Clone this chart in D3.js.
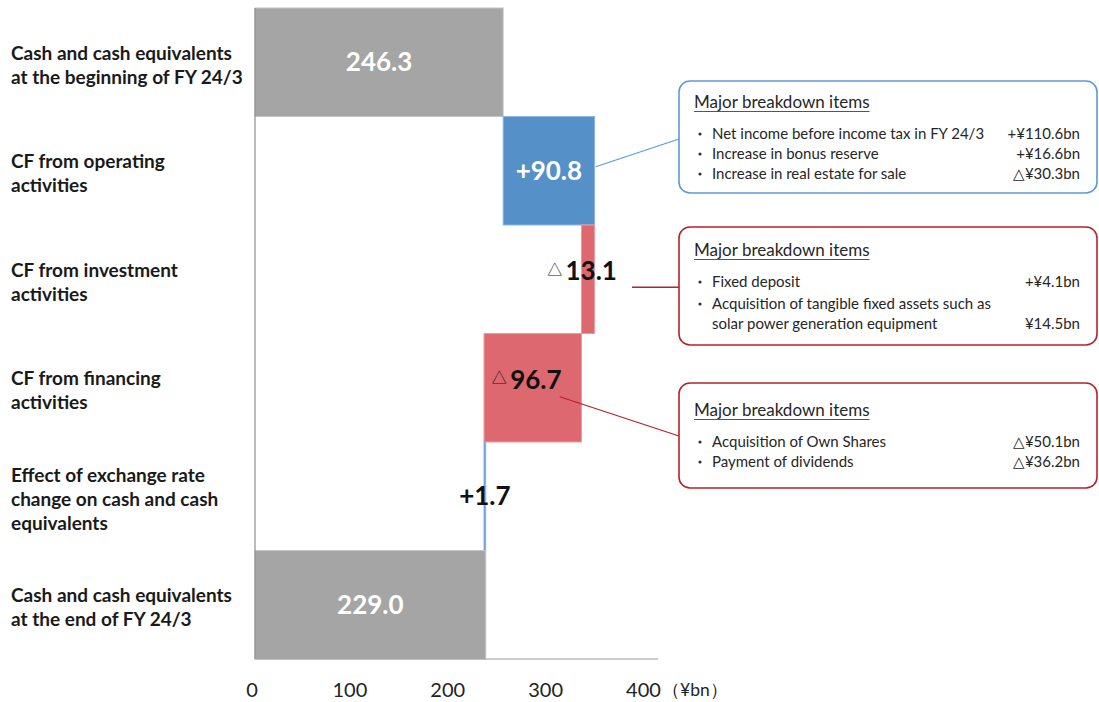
<!DOCTYPE html>
<html>
<head>
<meta charset="utf-8">
<script src="https://cdn.jsdelivr.net/npm/d3@7"></script>
<style>
  body { margin: 0; background: #fff; }
  svg { display: block; }
  text { font-family: Lato, "Noto Sans", sans-serif; }
</style>
</head>
<body>
<svg id="chart" width="1099" height="702"></svg>
<script>
// Cash flow waterfall, FY 24/3 (¥bn)
const categories = [
  "Cash and cash equivalents\nat the beginning of FY 24/3",
  "CF from operating\nactivities",
  "CF from investment\nactivities",
  "CF from financing\nactivities",
  "Effect of exchange rate\nchange on cash and cash\nequivalents",
  "Cash and cash equivalents\nat the end of FY 24/3"
];
const values = [246.3, 90.8, -13.1, -96.7, 1.7, 229.0];
const kinds = ["total", "change", "change", "change", "change", "total"];
const tickValues = [0, 100, 200, 300, 400];
const unitLabel = "（¥bn）";

const breakdownTitle = "Major breakdown items";
const operatingItems = [
  ["Net income before income tax in FY 24/3", "+¥110.6bn"],
  ["Increase in bonus reserve", "+¥16.6bn"],
  ["Increase in real estate for sale", "△¥30.3bn"]
];
const investmentItems = [
  ["Fixed deposit", "+¥4.1bn"],
  ["Acquisition of tangible fixed assets such as\nsolar power generation equipment", "¥14.5bn"]
];
const financingItems = [
  ["Acquisition of Own Shares", "△¥50.1bn"],
  ["Payment of dividends", "△¥36.2bn"]
];

// Running totals for the waterfall segments
let running = 0;
const rows = categories.map((cat, i) => {
  let a, b;
  if (kinds[i] === "total") { a = 0; b = values[i]; running = values[i]; }
  else { a = running; b = running + values[i]; running = b; }
  return { cat, v: values[i], kind: kinds[i], lo: Math.min(a, b), hi: Math.max(a, b) };
});

const svg = d3.select("#chart");
const COL = { total: "#a5a5a5", up: "#5590c8", down: "#de686f", blueLine: "#5b9bd5", redLine: "#b3232b", text: "#1a1a1a" };

const x = d3.scaleLinear().domain([0, 400]).range([255, 658]);
const y = d3.scaleBand().domain(categories).range([8, 659]).padding(0);
const tickScale = d3.scaleLinear().domain([0, 400]).range([251.5, 643]);

const fillOf = d => d.kind === "total" ? COL.total : (d.v >= 0 ? COL.up : COL.down);
const edgeOf = d => d.kind === "total" ? "#c4c4c4" : (d.v >= 0 ? "#8fb6e0" : "#eb9ca0");

// Bars
svg.append("g").selectAll("rect").data(rows).join("rect")
  .attr("x", d => x(d.lo))
  .attr("y", d => y(d.cat))
  .attr("width", d => Math.max(1.5, x(d.hi) - x(d.lo)))
  .attr("height", y.bandwidth())
  .attr("fill", fillOf)
  .attr("stroke", edgeOf)
  .attr("stroke-width", 1);

// Axis lines
svg.append("line").attr("x1", x(0)).attr("x2", x(0)).attr("y1", y.range()[0]).attr("y2", y.range()[1])
  .attr("stroke", "#8c8c8c").attr("stroke-width", 1.2);
svg.append("line").attr("x1", x(0)).attr("x2", x(400)).attr("y1", y.range()[1]).attr("y2", y.range()[1])
  .attr("stroke", "#9a9a9a").attr("stroke-width", 1.2);

// Tick labels
const axisG = svg.append("g").attr("transform", `translate(0,${y.range()[1]})`)
  .call(d3.axisBottom(tickScale).tickValues(tickValues).tickSize(0).tickFormat(d3.format("d")));
axisG.select(".domain").remove();
axisG.selectAll("text")
  .attr("y", 31).attr("dy", "0.35em")
  .attr("font-family", "Lato, sans-serif").attr("font-size", 20).attr("fill", "#222");

svg.append("text").attr("x", 662).attr("y", y.range()[1] + 31).attr("dy", "0.35em")
  .attr("font-family", "'Noto Sans CJK JP', sans-serif").attr("font-size", 17.5).attr("fill", "#222")
  .text(unitLabel);

// Category labels
const catG = svg.append("g");
rows.forEach(d => {
  const lines = d.cat.split("\n");
  const lh = 24;
  const cy = y(d.cat) + y.bandwidth() / 2 + 3;
  const t = catG.append("text").attr("font-weight", 700).attr("font-size", 19).attr("fill", COL.text);
  lines.forEach((ln, k) => {
    t.append("tspan").attr("x", 11).attr("y", cy + (k - (lines.length - 1) / 2) * lh).attr("dy", "0.35em").text(ln);
  });
});

// Value labels
const labG = svg.append("g");
rows.forEach(d => {
  const cx = x((d.lo + d.hi) / 2);
  const cy = y(d.cat) + y.bandwidth() / 2;
  const light = d.kind === "total" || d.v >= 10;
  const t = labG.append("text").attr("text-anchor", "middle")
    .attr("x", d.v < 0 ? cx - 6 : cx).attr("y", cy).attr("dy", "0.35em")
    .attr("font-weight", 700).attr("font-size", 26).attr("fill", light ? "#fff" : "#111");
  if (d.v < 0) {
    t.append("tspan").attr("font-size", 15).attr("font-weight", 400).attr("dy", "-0.3em")
      .attr("font-family", "'Noto Sans CJK JP', sans-serif").text("△ ");
    t.append("tspan").attr("dy", "0.22em").text(Math.abs(d.v).toFixed(1));
  } else {
    t.text((d.kind === "change" ? "+" : "") + d.v.toFixed(1));
  }
});

// Breakdown callouts
function callout(box, items, color, from, to) {
  svg.append("line").attr("x1", from[0]).attr("y1", from[1]).attr("x2", to[0]).attr("y2", to[1])
    .attr("stroke", color).attr("stroke-width", 1.3);
  const g = svg.append("g");
  g.append("rect").attr("x", box.x).attr("y", box.y).attr("width", box.w).attr("height", box.h)
    .attr("rx", 11).attr("fill", "#fff").attr("stroke", color).attr("stroke-width", 1.6);
  const title = g.append("text").attr("x", box.x + 15).attr("y", box.titleY).attr("dy", "0.35em")
    .attr("font-size", 17).attr("fill", "#262626").text(breakdownTitle);
  const tw = title.node().getComputedTextLength();
  g.append("line").attr("x1", box.x + 15).attr("x2", box.x + 15 + tw)
    .attr("y1", box.titleY + 9.5).attr("y2", box.titleY + 9.5).attr("stroke", "#555").attr("stroke-width", 1);
  let ly = box.titleY + 32;
  items.forEach(([label, val], i) => {
    const lines = label.split("\n");
    if (i > 0) ly += box.gap;
    // bullet dot
    g.append("circle").attr("cx", box.x + 21).attr("cy", ly).attr("r", 1.6).attr("fill", "#333");
    lines.forEach((ln, k) => {
      g.append("text").attr("x", box.x + 33).attr("y", ly + k * 19.5).attr("dy", "0.35em")
        .attr("font-size", 15).attr("fill", "#262626").text(ln);
    });
    g.append("text").attr("x", box.x + box.w - 17).attr("y", ly + (lines.length - 1) * 19.5).attr("dy", "0.35em")
      .attr("text-anchor", "end").attr("font-size", 15).attr("fill", "#262626").text(val);
    ly += lines.length * 20;
  });
}

const rOp = rows[1], rInv = rows[2], rFin = rows[3];
const mid = r => y(r.cat) + y.bandwidth() / 2;

callout({ x: 679, y: 81, w: 418, h: 112, titleY: 102, gap: 0 }, operatingItems, COL.blueLine,
  [x(rOp.hi) + 1, mid(rOp) - 4], [679, 139]);
callout({ x: 679, y: 227, w: 418, h: 118, titleY: 250, gap: 2 }, investmentItems, COL.redLine,
  [x((rInv.lo + rInv.hi) / 2) + 44, mid(rInv) + 8], [679, mid(rInv) + 8]);
callout({ x: 679, y: 383, w: 418, h: 105, titleY: 410, gap: 0 }, financingItems, COL.redLine,
  [x((rFin.lo + rFin.hi) / 2) + 27, mid(rFin) + 9], [679, 436]);
</script>
</body>
</html>
